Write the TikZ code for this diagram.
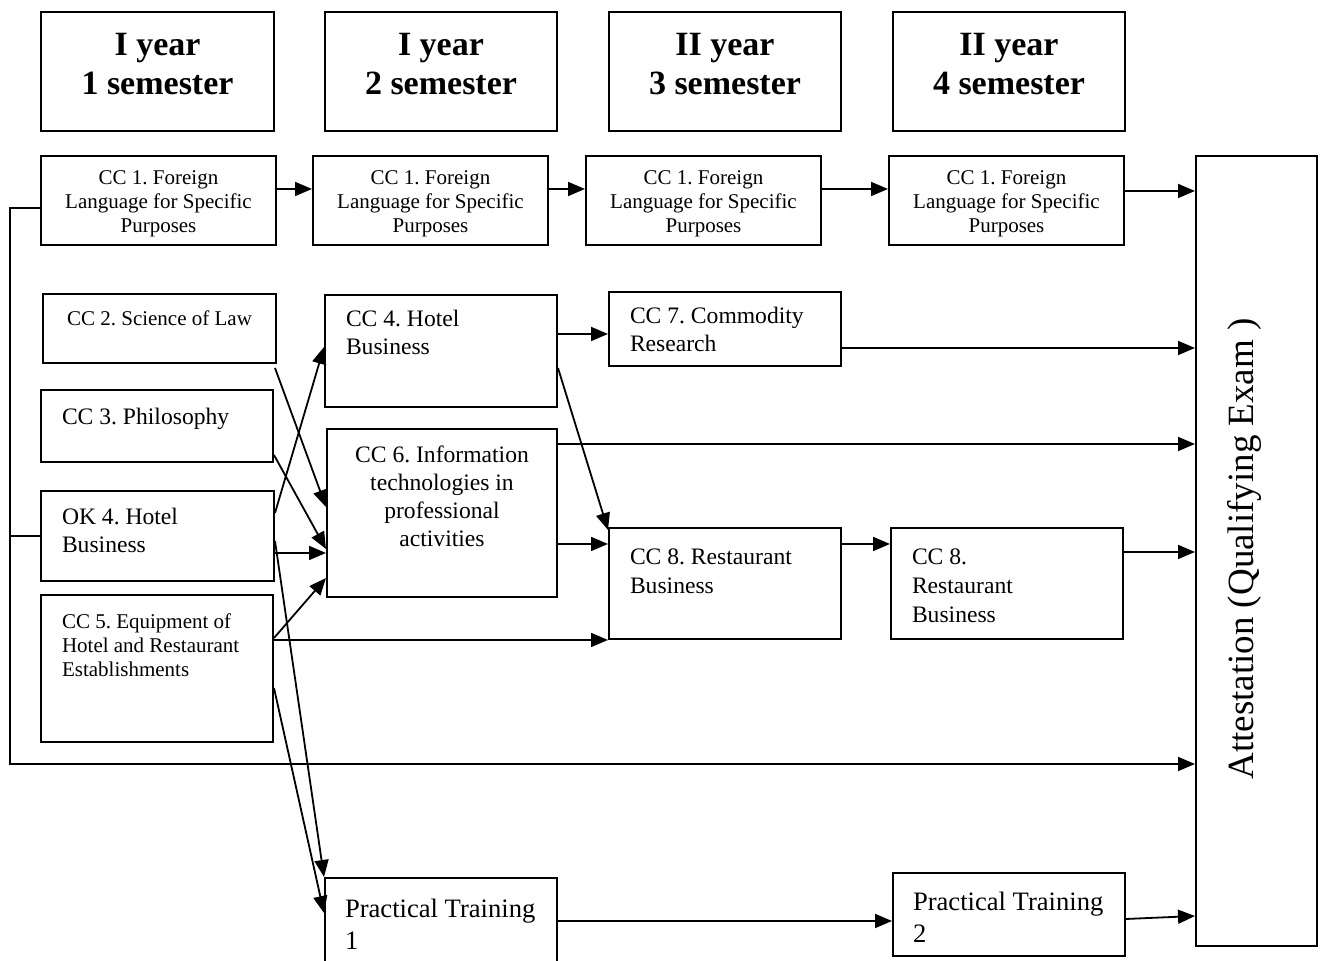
\documentclass[tikz,border=0pt]{standalone}
\usepackage{fontspec}
\setmainfont{Liberation Serif}
\usepackage{tikz}
\usetikzlibrary{arrows.meta}
\frenchspacing
\tikzset{>={Triangle[length=8.5pt,width=7pt]}}
\tikzset{box/.style={draw,line width=1pt,anchor=north west,inner sep=0pt},
	conn/.style={->,line width=0.9pt},
	line/.style={line width=0.9pt}}
\newcommand{\boxcell}[3]{\parbox[t][#2][t]{#1}{#3}}
\newcommand{\txthead}{\fontsize{17}{19.5}\selectfont\bfseries}
\newcommand{\txtsmall}{\fontsize{10.5}{12}\selectfont}
\newcommand{\txtmed}{\fontsize{11.8}{14}\selectfont}
\newcommand{\txtpract}{\fontsize{13.3}{16}\selectfont}
\newcommand{\txtatt}{\fontsize{18.5}{22}\selectfont}

\begin{document}
\begin{tikzpicture}[x=0.5pt,y=-0.5pt]
            \useasboundingbox (0,0) rectangle (1324,961);
            \clip (0,0) rectangle (1324,961);
            % semesters
            \node[box,inner xsep=5pt,inner ysep=10.5pt] (H1) at (40,11) {\boxcell{106.5pt}{38.5pt}{\centering\txthead I year\\1 semester}};
            \node[box,inner xsep=5pt,inner ysep=10.5pt] (H2) at (324,11) {\boxcell{106pt}{38.5pt}{\centering\txthead I year\\2 semester}};
            \node[box,inner xsep=5pt,inner ysep=10.5pt] (H3) at (608,11) {\boxcell{106pt}{38.5pt}{\centering\txthead II year\\3 semester}};
            \node[box,inner xsep=5pt,inner ysep=10.5pt] (H4) at (892,11) {\boxcell{106pt}{38.5pt}{\centering\txthead II year\\4 semester}};
            % foreign language row
            \node[box,inner xsep=8pt,inner ysep=7.5pt] (F1) at (40,155) {\boxcell{101.5pt}{29.5pt}{\centering\txtsmall CC 1. Foreign\\Language for Specific\\Purposes}};
            \node[box,inner xsep=8pt,inner ysep=7.5pt] (F2) at (312,155) {\boxcell{101.5pt}{29.5pt}{\centering\txtsmall CC 1. Foreign\\Language for Specific\\Purposes}};
            \node[box,inner xsep=8pt,inner ysep=7.5pt] (F3) at (585,155) {\boxcell{101.5pt}{29.5pt}{\centering\txtsmall CC 1. Foreign\\Language for Specific\\Purposes}};
            \node[box,inner xsep=8pt,inner ysep=7.5pt] (F4) at (888,155) {\boxcell{101.5pt}{29.5pt}{\centering\txtsmall CC 1. Foreign\\Language for Specific\\Purposes}};
            % first semester
            \node[box,inner xsep=8pt,inner ysep=8.2pt] (L2) at (42,293) {\boxcell{100.5pt}{18.1pt}{\centering\txtsmall CC 2. Science of Law}};
            \node[box,inner xsep=10.5pt,inner ysep=9.2pt] (L3) at (40,389) {\boxcell{95pt}{17.6pt}{\raggedright\txtmed CC 3. Philosophy}};
            \node[box,inner xsep=10.5pt,inner ysep=8.7pt] (L4) at (40,490) {\boxcell{95.5pt}{27.6pt}{\raggedright\txtmed OK 4. Hotel\\Business}};
            \node[box,inner xsep=10.5pt,inner ysep=9.2pt] (L5) at (40,594) {\boxcell{95pt}{55.1pt}{\raggedright\txtsmall CC 5. Equipment of\\Hotel and Restaurant\\Establishments}};
            % second semester
            \node[box,inner xsep=10.5pt,inner ysep=7.7pt] (M4) at (324,294) {\boxcell{95pt}{40.6pt}{\raggedright\txtmed CC 4. Hotel\\Business}};
            \node[box,inner xsep=5pt,inner ysep=8.2pt] (M6) at (326,428) {\boxcell{105pt}{67.6pt}{\centering\txtmed CC 6. Information\\technologies in\\professional\\activities}};
            \node[box,inner xsep=10pt,inner ysep=10.7pt] (P1) at (324,877) {\boxcell{96pt}{33.6pt}{\raggedright\txtpract Practical Training\\1}};
            % third and fourth semester
            \node[box,inner xsep=10.5pt,inner ysep=7.7pt] (T7) at (608,291) {\boxcell{95pt}{21.6pt}{\raggedright\txtmed CC 7. Commodity\\Research}};
            \node[box,inner xsep=10.5pt,inner ysep=10.2pt] (T8) at (608,527) {\boxcell{95pt}{35.1pt}{\raggedright\fontsize{11.8}{14.7}\selectfont CC 8. Restaurant\\Business}};
            \node[box,inner xsep=10.5pt,inner ysep=10.2pt] (R8) at (890,527) {\boxcell{95pt}{35.1pt}{\raggedright\fontsize{11.8}{14.7}\selectfont CC 8.\\Restaurant\\Business}};
            \node[box,inner xsep=10pt,inner ysep=9.7pt] (P2) at (892,872) {\boxcell{96pt}{22.1pt}{\raggedright\txtpract Practical Training\\2}};
            % attestation
            \node[box,minimum width=60.5pt,minimum height=395pt] (att) at (1195,155) {};
            \node[rotate=90,font=\txtatt] (attlabel) at (1244,549) {Attestation (Qualifying Exam )};
            % connectors
            \coordinate (bus) at (10,764);
            \draw[conn] ([yshift=5.75pt]F1.east) -- ([yshift=5.75pt]F2.west);
            \draw[conn] ([yshift=5.75pt]F2.east) -- ([yshift=5.75pt]F3.west);
            \draw[conn] ([yshift=5.75pt]F3.east) -- ([yshift=5.75pt]F4.west);
            \draw[conn] ([yshift=4.75pt]F4.east) -- ([yshift=4.75pt]F4.east -| att.west);
            \draw[conn] ([yshift=-3.75pt]F1.west) -| (bus) -- (bus -| att.west);
            \draw[line] (L4.west) -- (L4.west -| bus);
            \draw[conn] ([xshift=-1pt,yshift=-2pt]L2.south east) -- ([yshift=3pt]M6.west);
            \draw[conn] ([yshift=4pt]L3.south east) -- ([yshift=-18pt]M6.west);
            \draw[conn] ([yshift=11.5pt]L4.east) -- ([yshift=2pt]M4.west);
            \draw[conn] ([yshift=-8.5pt]L4.east) -- ([yshift=-8.5pt]L4.east -| M6.west);
            \draw[conn] ([yshift=-2.5pt]L4.east) -- (P1.north west);
            \draw[conn] ([yshift=15.25pt]L5.east) -- ([yshift=-32.5pt]M6.west);
            \draw[conn] (T8.south west -| L5.east) -- (T8.south west);
            \draw[conn] ([yshift=-9.75pt]L5.east) -- ([yshift=-18pt]P1.north west);
            \draw[conn] ([yshift=8.5pt]M4.east) -- ([yshift=8.5pt]M4.east -| T7.west);
            \draw[conn] ([yshift=-8.5pt]M4.east) -- ([yshift=-1.5pt]T8.north west);
            \draw[conn] ([yshift=34.5pt]M6.east) -- ([yshift=34.5pt]M6.east -| att.west);
            \draw[conn] ([yshift=-15.5pt]M6.east) -- ([yshift=-15.5pt]M6.east -| T8.west);
            \draw[conn] ([yshift=-9.5pt]T7.east) -- ([yshift=-9.5pt]T7.east -| att.west);
            \draw[conn] ([yshift=19.75pt]T8.east) -- ([yshift=19.75pt]T8.east -| R8.west);
            \draw[conn] ([yshift=15.75pt]R8.east) -- ([yshift=15.75pt]R8.east -| att.west);
            \draw[conn] ([yshift=-3.25pt]P2.west -| P1.east) -- ([yshift=-3.25pt]P2.west);
            \draw[conn] ([yshift=-2.25pt]P2.east) -- ([yshift=-0.75pt]P2.east -| att.west);
\end{tikzpicture}
\end{document}
